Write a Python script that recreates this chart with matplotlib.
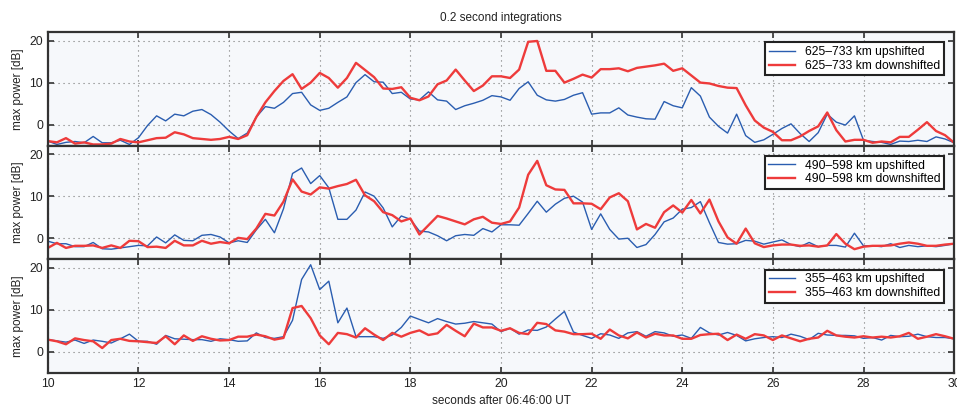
import numpy as np
import matplotlib
matplotlib.use('Agg')
import matplotlib.pyplot as plt

plt.rcParams['font.family'] = ['Liberation Sans', 'DejaVu Sans']

# time axis: 0.2 s integrations from 10 to 30 s
t = np.round(np.arange(10, 30.001, 0.2), 1)

# 625-733 km
up_625 = [-3.9, -4.7, -4.2, -4.0, -4.3, -2.8, -4.3, -4.3, -3.7, -4.7,
          -3.1, -0.2, 2.1, 0.9, 2.5, 2.1, 3.2, 3.6, 2.4, 0.6,
          -1.5, -3.3, -2.0, 1.8, 4.3, 3.9, 5.3, 7.4, 7.7, 4.7,
          3.4, 3.9, 5.3, 6.6, 10.0, 11.9, 10.2, 10.1, 7.4, 7.7,
          6.1, 5.9, 7.8, 5.9, 5.6, 3.6, 4.5, 5.1, 5.8, 6.9,
          6.6, 5.8, 8.6, 10.2, 7.0, 5.9, 5.6, 6.0, 7.0, 7.6,
          2.5, 2.8, 2.8, 4.0, 2.3, 1.8, 1.4, 1.3, 5.5, 4.5,
          4.0, 8.8, 6.8, 1.8, -0.4, -2.0, 2.5, -2.6, -4.2, -3.6,
          -2.3, -0.9, 0.2, -2.1, -4.0, -1.9, 2.5, 0.6, -0.1, 2.1,
          -3.7, -4.0, -4.2, -4.7, -3.9, -4.0, -3.7, -4.0, -2.9, -3.4,
          -4.3]
down_625 = [-3.9, -4.2, -3.2, -4.5, -4.2, -4.7, -4.7, -4.5, -3.4, -4.0,
            -4.2, -3.7, -3.2, -3.1, -1.8, -2.3, -3.2, -3.4, -3.6, -3.4,
            -2.9, -3.4, -2.5, 1.8, 5.3, 8.0, 10.4, 12.0, 8.5, 10.0,
            12.3, 11.1, 8.8, 11.1, 14.7, 13.0, 11.3, 8.6, 8.5, 8.9,
            6.4, 5.8, 6.7, 9.6, 10.5, 13.1, 10.5, 8.0, 9.3, 11.5,
            11.5, 11.1, 13.1, 19.7, 19.9, 12.8, 12.8, 10.0, 10.9, 11.9,
            11.2, 13.2, 13.2, 13.4, 12.7, 13.5, 13.8, 14.1, 14.5, 12.8,
            13.4, 11.7, 10.0, 9.8, 9.2, 8.8, 8.7, 4.6, 1.0, -0.7,
            -1.7, -3.7, -3.7, -2.8, -1.5, -0.4, 2.9, -1.3, -4.0, -3.6,
            -3.6, -4.3, -4.0, -4.2, -2.9, -2.9, -1.2, 0.6, -1.5, -2.5,
            -4.3]

# 490-598 km
up_490 = [-0.7, -1.3, -1.3, -2.0, -2.0, -1.0, -2.5, -2.6, -2.3, -2.0,
          -1.7, -1.8, 0.3, -1.1, 0.8, -0.5, -0.6, 0.7, 0.9, 0.3,
          -1.1, -0.6, -1.0, 2.0, 4.5, 1.3, 7.0, 15.4, 16.7, 13.0,
          14.9, 12.0, 4.5, 4.5, 6.7, 11.0, 10.0, 7.2, 2.7, 5.3,
          4.5, 1.7, 1.5, 0.6, -0.6, 0.6, 0.9, 0.7, 2.3, 1.5,
          3.2, 3.2, 3.1, 5.9, 8.8, 6.2, 8.1, 9.5, 10.0, 8.6,
          2.1, 5.8, 2.1, -0.2, 0.0, -2.2, -1.5, 0.9, 3.9, 4.8,
          6.9, 7.3, 8.7, 3.7, -1.0, -1.4, -1.3, -0.5, -0.7, -1.4,
          -0.9, -0.4, -1.5, -2.0, -1.0, -2.0, -1.7, -1.7, -2.1, 1.2,
          -1.8, -1.8, -2.0, -1.3, -2.2, -1.7, -2.0, -1.8, -2.0, -1.7,
          -1.3]
down_490 = [-2.3, -1.1, -2.3, -1.8, -1.8, -1.7, -2.3, -1.7, -2.3, -0.6,
            -0.7, -2.1, -2.0, -2.3, -0.6, -1.7, -1.7, -0.6, -1.3, -0.9,
            -1.2, 0.1, -0.2, 2.3, 5.8, 5.4, 8.7, 14.0, 11.1, 10.4,
            12.1, 11.8, 12.4, 12.9, 13.9, 10.2, 8.8, 6.2, 5.5, 4.0,
            4.7, 0.9, 3.1, 5.3, 4.7, 4.0, 3.3, 4.5, 5.1, 3.7,
            3.4, 4.0, 7.3, 15.1, 18.4, 12.6, 11.6, 11.5, 8.3, 8.3,
            8.2, 6.9, 9.7, 10.7, 8.8, 2.1, 3.4, 2.5, 6.2, 7.8,
            6.1, 9.1, 5.9, 9.2, 4.0, 0.2, -1.3, 2.3, -1.2, -2.1,
            -1.7, -1.5, -1.5, -1.8, -1.7, -2.0, -1.7, 1.0, -1.3, -2.6,
            -2.0, -1.8, -1.8, -1.7, -1.3, -1.0, -1.3, -1.8, -1.8, -1.5,
            -1.3]

# 355-463 km
up_355 = [2.9, 2.6, 2.3, 2.8, 2.0, 2.8, 2.5, 2.1, 3.1, 4.2,
          2.5, 2.5, 1.8, 3.9, 3.1, 3.0, 2.9, 2.9, 2.5, 3.1,
          2.9, 2.5, 2.6, 4.5, 3.4, 3.2, 3.6, 7.5, 17.2, 20.7,
          14.8, 16.8, 6.9, 10.4, 3.6, 3.6, 3.6, 3.2, 4.0, 5.8,
          8.5, 7.7, 6.9, 7.9, 7.2, 6.6, 6.8, 7.2, 6.9, 6.6,
          4.8, 5.6, 4.2, 5.2, 5.1, 5.9, 7.8, 9.6, 4.7, 3.9,
          3.2, 4.3, 4.0, 3.2, 4.5, 4.8, 3.7, 4.8, 4.5, 3.7,
          4.0, 3.2, 5.8, 4.5, 4.0, 4.6, 3.9, 2.6, 3.1, 3.4,
          3.6, 3.4, 4.2, 3.7, 2.9, 4.4, 4.0, 3.9, 3.9, 3.8,
          3.2, 3.4, 2.8, 3.9, 3.6, 3.7, 4.2, 3.6, 3.4, 3.4,
          3.1]
down_355 = [2.9, 2.5, 1.8, 3.2, 2.8, 2.5, 0.9, 2.8, 3.1, 2.6,
            2.5, 2.3, 2.1, 3.7, 1.8, 3.9, 2.6, 3.7, 3.1, 2.7,
            2.8, 3.6, 3.6, 4.1, 3.7, 2.9, 3.3, 10.4, 10.9, 8.0,
            3.9, 1.8, 4.5, 4.2, 3.4, 5.6, 4.1, 2.8, 4.5, 3.6,
            4.5, 5.1, 4.0, 4.4, 6.4, 5.0, 3.7, 6.7, 5.8, 5.8,
            5.0, 5.6, 4.5, 4.2, 6.9, 6.6, 5.1, 4.8, 4.2, 4.2,
            4.3, 3.1, 5.3, 3.9, 3.2, 4.6, 3.4, 4.3, 3.9, 3.9,
            3.1, 3.1, 4.0, 4.2, 4.3, 2.8, 4.1, 3.1, 4.2, 3.9,
            2.8, 3.9, 3.2, 2.5, 3.1, 3.4, 5.0, 3.9, 3.6, 3.4,
            3.7, 3.4, 3.6, 3.4, 3.7, 4.5, 3.1, 3.6, 4.2, 3.7,
            3.1]

bandas = ['625\u2013733 km', '490\u2013598 km', '355\u2013463 km']
ups = [up_625, up_490, up_355]
downs = [down_625, down_490, down_355]

fig, axes = plt.subplots(3, 1, sharex=True, figsize=(9.57, 4.12), dpi=100)
fig.subplots_adjust(left=0.050, right=0.997, top=0.922, bottom=0.095, hspace=0)

for ax, banda, up, down in zip(axes, bandas, ups, downs):
    ax.set_facecolor('#f6f8fb')
    ax.plot(t, up, color='#2a5db0', lw=1.0, label=banda + ' upshifted')
    ax.plot(t, down, color='#ee3b3b', lw=1.7, label=banda + ' downshifted')
    ax.set_xlim(10, 30)
    ax.set_ylim(-5, 22)
    ax.set_yticks([0, 10, 20])
    ax.set_xticks(np.arange(10, 31, 2))
    ax.grid(True, linestyle=(0, (1, 3.5)), color='#777777', lw=0.8)
    ax.tick_params(direction='in', top=True, right=True, length=4, width=1.2,
                   color='#333333', labelsize=8.8, labelcolor='#222222')
    for s in ax.spines.values():
        s.set_linewidth(1.6)
        s.set_color('#333333')
    ax.set_ylabel('max power [dB]', fontsize=8.5, color='#222222', labelpad=4)
    leg = ax.legend(loc='upper right', fontsize=8.7, fancybox=False,
                    framealpha=1, borderaxespad=0.85, handlelength=2.2,
                    borderpad=0.3, labelspacing=0.15)
    leg.get_frame().set_edgecolor('#222222')
    leg.get_frame().set_linewidth(1.5)

axes[0].set_title('0.2 second integrations', fontsize=8.5, color='#222222', pad=8)
axes[2].set_xlabel('seconds after 06:46:00 UT', fontsize=8.5, color='#222222', labelpad=4)

plt.savefig('out.png', dpi=100)
